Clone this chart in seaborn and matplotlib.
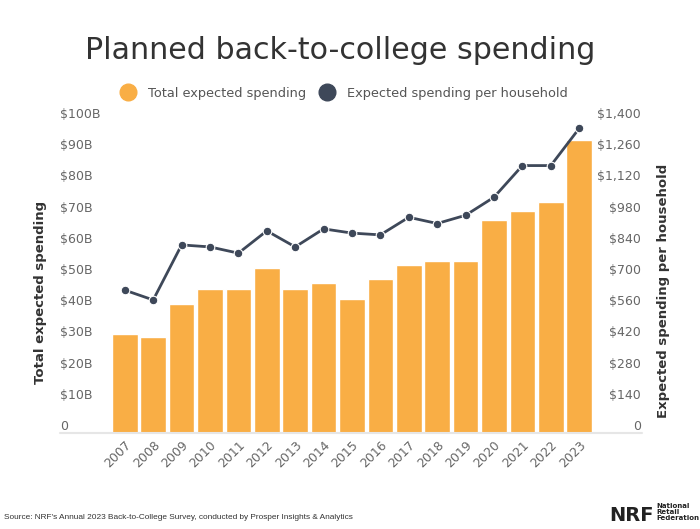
import matplotlib
matplotlib.use('Agg')
import matplotlib.pyplot as plt
import seaborn as sns
import pandas as pd
from matplotlib.lines import Line2D

# ---------------- data ----------------
years = [str(y) for y in range(2007, 2024)]
total_spending = [31.8, 30.8, 41.2, 46.1, 46.1, 53.0, 46.1, 48.1, 43.1,
                  49.2, 54.0, 55.0, 55.0, 68.3, 71.0, 74.1, 94.0]
per_household = [641, 597, 844, 835, 807, 907, 835, 916, 897,
                 889, 968, 940, 977, 1058, 1200, 1200, 1367]
left_ticks = [0, 10, 20, 30, 40, 50, 60, 70, 80, 90, 100]
left_tick_labels = ['0', '$10B', '$20B', '$30B', '$40B', '$50B', '$60B',
                    '$70B', '$80B', '$90B', '$100B']
right_ticks = [0, 140, 280, 420, 560, 700, 840, 980, 1120, 1260, 1400]
right_tick_labels = ['0', '$140', '$280', '$420', '$560', '$700', '$840',
                     '$980', '$1,120', '$1,260', '$1,400']
series_names = ['Total expected spending', 'Expected spending per household']
title = 'Planned back-to-college spending'
source = "Source: NRF's Annual 2023 Back-to-College Survey, conducted by Prosper Insights & Analytics"

df = pd.DataFrame({'year': years, 'total': total_spending, 'household': per_household})

# ---------------- style ----------------
ORANGE = '#F9AE45'
DARK = '#3E4859'
TICK = '#666666'

sns.set_theme(style='white')
plt.rcParams['font.family'] = ['DejaVu Sans']

W, H = 700, 529
fig = plt.figure(figsize=(W / 100, H / 100), dpi=100)
left_px, right_px, bottom_px, top_px = 110.6, 593.4, 433, 121
ax = fig.add_axes([left_px / W, (H - bottom_px) / H,
                   (right_px - left_px) / W, (bottom_px - top_px) / H])

sns.barplot(data=df, x='year', y='total', ax=ax, color=ORANGE, saturation=1,
            width=0.9, edgecolor='white', linewidth=1)
ax.set_ylim(0, 100)
ax.set_xlim(-0.5, len(years) - 0.5)

ax2 = ax.twinx()
sns.pointplot(data=df, x='year', y='household', ax=ax2, color=DARK,
              markers='o', linestyles='-', markersize=6.2, linewidth=2.0,
              markeredgecolor='white', markeredgewidth=0.8)
ax2.set_ylim(0, 1400)
ax.set_xlim(-0.5, len(years) - 0.5)

for a in (ax, ax2):
    for s in a.spines.values():
        s.set_visible(False)
    a.set_xlabel('')
    a.set_ylabel('')
    a.grid(False)

ax.set_yticks(left_ticks)
ax.set_yticklabels(left_tick_labels)
ax2.set_yticks(right_ticks)
ax2.set_yticklabels(right_tick_labels)
ax.tick_params(axis='y', length=0, pad=36.4, labelsize=9, labelcolor=TICK)
ax2.tick_params(axis='y', length=0, pad=34.3, labelsize=9, labelcolor=TICK)
for t in ax.get_yticklabels():
    t.set_ha('left')
    t.set_va('bottom')
for t in ax2.get_yticklabels():
    t.set_ha('right')
    t.set_va('bottom')

ax.tick_params(axis='x', length=0, pad=4, labelsize=9, labelcolor=TICK)
for t in ax.get_xticklabels():
    t.set_rotation(45)
    t.set_ha('right')
    t.set_rotation_mode('anchor')

# baseline rule spanning label area
fig.add_artist(Line2D([60 / W, 642 / W], [(H - bottom_px) / H] * 2,
                      color='#e6e6e6', lw=1.5, transform=fig.transFigure))

# axis titles
fig.text(41 / W, (H - 292) / H, series_names[0], rotation=90, ha='center',
         va='center', fontsize=9.5, fontweight='bold', color='#333333')
fig.text(663 / W, (H - 291) / H, series_names[1], rotation=90, ha='center',
         va='center', fontsize=9.5, fontweight='bold', color='#333333')

# title
fig.text(340 / W, (H - 59) / H, title, ha='center', va='baseline',
         fontsize=21.7, color='#333333')

# legend
handles = [Line2D([], [], ls='', marker='o', ms=12, color=ORANGE),
           Line2D([], [], ls='', marker='o', ms=12, color=DARK)]
fig.legend(handles, series_names, loc='center', bbox_to_anchor=(344 / W, (H - 93) / H),
           ncol=2, frameon=False, fontsize=9.3, labelcolor='#555555',
           handletextpad=0.95, columnspacing=1.0, handlelength=1.2)

# footer
fig.text(4 / W, (H - 519) / H, source, ha='left', va='baseline', fontsize=5.95,
         color='#333333', family='Liberation Sans')
fig.text(609 / W, (H - 521) / H, 'NRF', ha='left', va='baseline', fontsize=14,
         fontweight='heavy', color='#222222')
fig.text(656 / W, (H - 503) / H, 'National\nRetail\nFederation', ha='left', va='top',
         fontsize=5, fontweight='bold', color='#222222', linespacing=1.05)

fig.savefig('out.png', dpi=100)
